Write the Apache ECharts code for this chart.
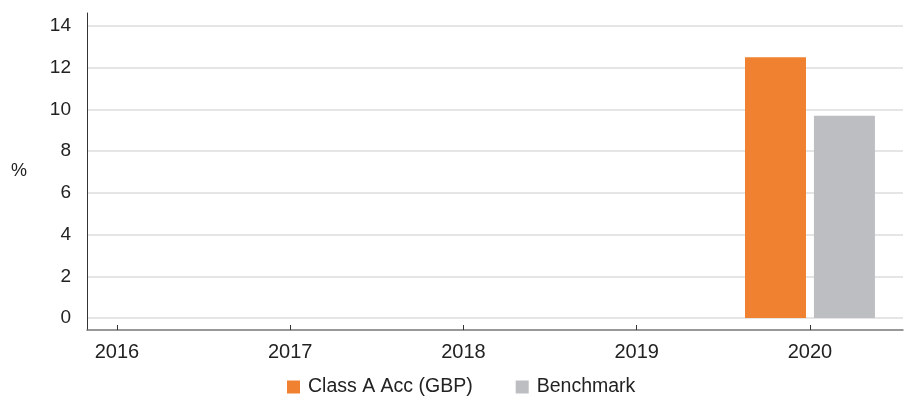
<!DOCTYPE html>
<html>
<head>
<meta charset="utf-8">
<script src="https://cdn.jsdelivr.net/npm/echarts@6/dist/echarts.min.js"></script>
<style>
  html, body { margin: 0; padding: 0; background: #fff; }
  #chart { width: 904px; height: 403px; }
</style>
</head>
<body>
<div id="chart"></div>
<script>
const years = [2016, 2017, 2018, 2019, 2020]
const classA = [null, null, null, null, 12.5]
const benchmark = [null, null, null, null, 9.7]
const yTicks = [0, 2, 4, 6, 8, 10, 12, 14]

const font = 'Liberation Sans, Arial, sans-serif'

const chart = echarts.init(document.getElementById('chart'))

const option = {
  animation: false,
  grid: { left: 87, right: 1, top: 13, bottom: 73 },
  legend: {
    bottom: 1,
    left: 282,
    itemWidth: 13,
    itemHeight: 13,
    itemGap: 43,
    icon: 'rect',
    textStyle: { fontFamily: font, fontSize: 19.5, color: '#222', padding: [0, 0, 0, 3] },
    data: ['Class A Acc (GBP)', 'Benchmark'],
  },
  xAxis: {
    type: 'value',
    min: 2015.827,
    max: 2020.537,
    splitLine: { show: false },
    axisLine: { show: true, onZero: false, lineStyle: { color: '#777', width: 1.5 } },
    axisTick: {
      show: true,
      inside: true,
      length: 5,
      customValues: years,
      lineStyle: { color: '#333' },
    },
    axisLabel: {
      customValues: years,
      margin: 12,
      fontFamily: font,
      fontSize: 20,
      color: '#222',
      formatter: (v) => String(v),
    },
  },
  yAxis: {
    type: 'value',
    min: -0.575,
    max: 14.62,
    name: '%',
    nameLocation: 'middle',
    nameRotate: 0,
    nameGap: 60,
    nameTextStyle: { fontFamily: font, fontSize: 18, color: '#222' },
    axisLine: { show: true, lineStyle: { color: '#333', width: 1 } },
    axisTick: { show: false, customValues: yTicks },
    axisLabel: {
      customValues: yTicks,
      margin: 16,
      fontFamily: font,
      fontSize: 19,
      color: '#222',
    },
    splitLine: { show: true, lineStyle: { color: '#dcdcdc', width: 1.5 } },
  },
  series: [
    {
      name: 'Class A Acc (GBP)',
      type: 'bar',
      barWidth: 61,
      barGap: '13%',
      itemStyle: { color: '#ef8130' },
      data: years.map((y, i) => [y, classA[i]]),
    },
    {
      name: 'Benchmark',
      type: 'bar',
      barWidth: 61,
      barGap: '13%',
      itemStyle: { color: '#bdbec1' },
      data: years.map((y, i) => [y, benchmark[i]]),
    },
  ],
}

chart.setOption(option)
</script>
</body>
</html>
